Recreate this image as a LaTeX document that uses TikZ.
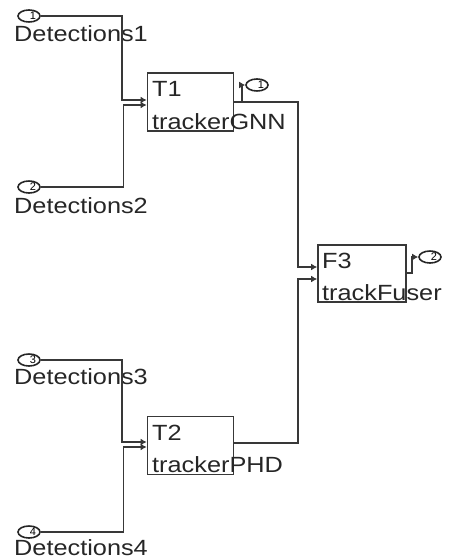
\documentclass[tikz,border=0pt]{standalone}
\usepackage{fontspec}
\setmainfont{Liberation Sans}
\usetikzlibrary{arrows.meta,shapes.geometric}
\newcommand{\wtxt}[1]{\scalebox{1.15}[1]{\fontsize{22}{22}\selectfont #1}}
\tikzset{
  ln/.style={draw=black!78, line width=1.8pt},
  arr/.style={ln, -{Latex[length=6pt,width=7pt]}},
  blk/.style={draw=black!78, line width=1.8pt, minimum width=86pt, minimum height=58pt, inner sep=0pt},
  port/.style={ellipse, draw=black!85, line width=1.6pt, minimum width=22pt, minimum height=12pt, inner sep=0pt, font=\fontsize{11}{11}\selectfont},
  lbl/.style={anchor=base west, inner sep=0pt, text=black!85},
}
\begin{document}
\begin{tikzpicture}[x=1pt,y=-1pt]
\useasboundingbox (0,0) rectangle (451,559);
% inports
\node[port] (in1) at (29,16) {\hspace{8pt}1};
\node[port] (in2) at (29,187) {\hspace{8pt}2};
\node[port] (in3) at (29,360) {\hspace{8pt}3};
\node[port] (in4) at (29,532) {\hspace{8pt}4};
\node[lbl] (l1) at (14,42) {\wtxt{Detections1}};
\node[lbl] (l2) at (14,213) {\wtxt{Detections2}};
\node[lbl] (l3) at (14,384) {\wtxt{Detections3}};
\node[lbl] (l4) at (14,555) {\wtxt{Detections4}};
% blocks
\node[blk] (T1) at (190.5,102) {};
\node[blk] (T2) at (190.5,445.5) {};
\node[blk, minimum width=88pt, minimum height=57pt] (F3) at (362,273.5) {};
\node[lbl] (t1a) at (152,97) {\wtxt{T1}};
\node[lbl] (t1b) at (152,129) {\wtxt{trackerGNN}};
\node[lbl] (t2a) at (152,440) {\wtxt{T2}};
\node[lbl] (t2b) at (152,472.5) {\wtxt{trackerPHD}};
\node[lbl] (f3a) at (322,268) {\wtxt{F3}};
\node[lbl] (f3b) at (322,300) {\wtxt{trackFuser}};
% outports
\node[port] (out1) at (257,85) {\hspace{8pt}1};
\node[port] (out2) at (430,257) {\hspace{8pt}2};
% port coordinates
\coordinate (T1i1) at (T1.west |- 0,100);
\coordinate (T1i2) at (T1.west |- 0,105);
\coordinate (T2i1) at (T2.west |- 0,442);
\coordinate (T2i2) at (T2.west |- 0,447);
\coordinate (T1o) at (T1.east |- 0,102);
\coordinate (T2o) at (T2.east |- 0,443);
\coordinate (F3i1) at (F3.west |- 0,267);
\coordinate (F3i2) at (F3.west |- 0,279);
\coordinate (F3o) at (F3.east |- 0,273);
% connectors
\draw[arr] (in1.east) -- (122,16) |- (T1i1);
\draw[arr] (in2.east) -- (123.5,187) |- (T1i2);
\draw[arr] (in3.east) -- (122,360) |- (T2i1);
\draw[arr] (in4.east) -- (123.5,532) |- (T2i2);
\draw[arr] (T1o) -- (298,102) |- (F3i1);
\draw[arr] (T2o) -- (298,443) |- (F3i2);
\draw[arr] (242,102) |- (out1.west);
\draw[arr] (F3o) -- (412,273) |- (out2.west);
\end{tikzpicture}
\end{document}
